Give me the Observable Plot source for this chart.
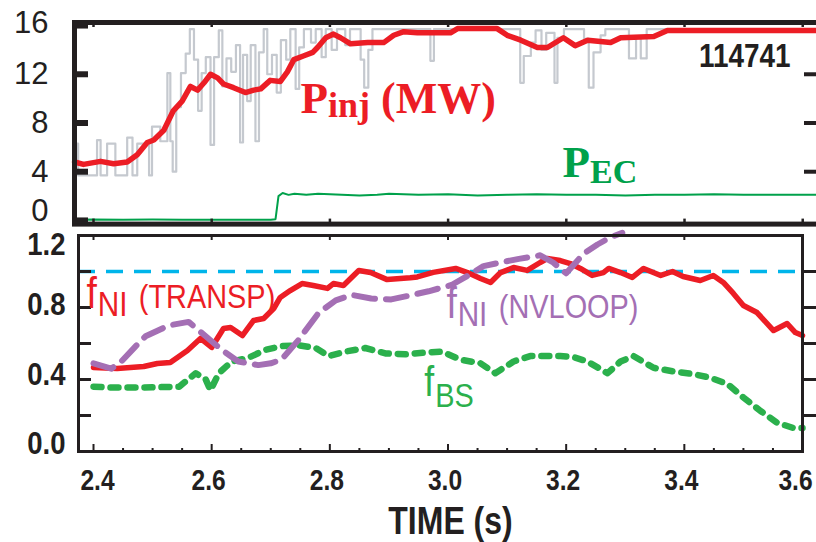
<!DOCTYPE html>
<html>
<head>
<meta charset="utf-8">
<script src="https://cdn.jsdelivr.net/npm/d3@7"></script>
<script src="https://cdn.jsdelivr.net/npm/@observablehq/plot@0.6"></script>
<style>
  html, body { margin: 0; padding: 0; background: #fff; }
  #wrap { position: relative; width: 816px; height: 542px; overflow: hidden; background: #fff; }
  #wrap svg { position: absolute; left: 0; overflow: visible; max-width: none !important; }
</style>
</head>
<body>
<div id="wrap"></div>
<script>
// ---------- DATA ----------
// Top panel: injected power P_inj (MW), smoothed
const pinjT = [2.368, 2.383, 2.412, 2.434, 2.457, 2.474, 2.491, 2.502, 2.519, 2.535, 2.550, 2.564, 2.576, 2.587, 2.598, 2.610, 2.620, 2.637, 2.657, 2.671, 2.683, 2.699, 2.716, 2.728, 2.739, 2.755, 2.771, 2.779, 2.793, 2.806, 2.818, 2.835, 2.864, 2.891, 2.908, 2.925, 2.948, 3.004, 3.016, 3.083, 3.100, 3.123, 3.151, 3.168, 3.195, 3.215, 3.236, 3.275, 3.292, 3.348, 3.371, 3.623];
const pinjV = [4.8, 4.6, 4.85, 4.65, 4.8, 5.4, 6.4, 6.6, 7.4, 9.0, 9.8, 11.0, 10.7, 11.3, 12.0, 11.7, 11.2, 10.9, 10.5, 10.7, 10.8, 11.5, 11.4, 12.2, 13.2, 13.5, 13.8, 14.2, 15.0, 15.3, 15.0, 14.5, 14.6, 14.6, 15.2, 15.5, 15.4, 15.4, 15.75, 15.75, 15.2, 14.8, 14.2, 14.2, 15.0, 14.35, 14.8, 14.6, 15.0, 15.1, 15.6, 15.6];

// Top panel: raw beam power (grey stepped trace)
const rawT = [2.368, 2.374, 2.406, 2.412, 2.423, 2.437, 2.457, 2.466, 2.474, 2.494, 2.499, 2.513, 2.525, 2.530, 2.534, 2.540, 2.548, 2.556, 2.563, 2.570, 2.577, 2.583, 2.590, 2.598, 2.604, 2.612, 2.618, 2.625, 2.633, 2.641, 2.648, 2.653, 2.660, 2.666, 2.674, 2.680, 2.688, 2.694, 2.702, 2.710, 2.717, 2.726, 2.733, 2.742, 2.748, 2.756, 2.768, 2.776, 2.786, 2.793, 2.803, 2.812, 2.826, 2.834, 2.852, 2.858, 2.865, 2.872, 2.970, 2.976, 3.122, 3.128, 3.140, 3.148, 3.158, 3.166, 3.180, 3.185, 3.196, 3.230, 3.238, 3.246, 3.258, 3.266, 3.306, 3.318, 3.326, 3.336, 3.623];
const rawV = [6.3, 3.7, 6.6, 3.7, 6.3, 3.7, 6.8, 3.7, 6.3, 3.7, 7.7, 6.5, 12.1, 6.5, 4.0, 9.3, 12.1, 13.7, 15.7, 13.2, 9.0, 12.1, 13.4, 6.2, 13.4, 15.6, 11.0, 13.3, 12.2, 14.4, 6.4, 13.6, 9.8, 14.4, 6.5, 13.8, 15.7, 12.0, 13.6, 10.5, 14.8, 13.2, 15.7, 10.8, 14.2, 15.7, 14.6, 15.7, 13.4, 15.7, 14.0, 15.7, 14.4, 15.7, 13.2, 10.9, 14.0, 15.7, 13.1, 15.7, 11.3, 13.5, 14.6, 15.6, 14.0, 15.4, 11.3, 15.0, 15.7, 14.9, 10.9, 13.8, 15.2, 15.7, 13.3, 15.0, 13.3, 15.7, 15.7];

// Top panel: ECH power P_EC (MW)
const pecT = [2.368, 2.40, 2.45, 2.50, 2.55, 2.60, 2.65, 2.70, 2.708, 2.713, 2.72, 2.73, 2.74, 2.76, 2.78, 2.80, 2.82, 2.85, 2.88, 2.90, 2.95, 3.00, 3.05, 3.10, 3.15, 3.20, 3.25, 3.30, 3.35, 3.40, 3.45, 3.50, 3.55, 3.60, 3.623];
const pecV = [0.05, 0.08, 0.05, 0.07, 0.05, 0.06, 0.05, 0.06, 0.10, 2.00, 2.25, 2.10, 2.20, 2.10, 2.20, 2.15, 2.10, 2.05, 2.10, 2.20, 2.10, 2.15, 2.05, 2.10, 2.15, 2.10, 2.10, 2.05, 2.10, 2.10, 2.15, 2.10, 2.10, 2.10, 2.10];

// Bottom panel: f_NI (TRANSP)
const transpT = [2.400, 2.440, 2.485, 2.508, 2.530, 2.559, 2.581, 2.600, 2.620, 2.632, 2.652, 2.671, 2.688, 2.705, 2.716, 2.733, 2.753, 2.772, 2.796, 2.806, 2.823, 2.849, 2.869, 2.897, 2.936, 2.948, 2.975, 3.013, 3.033, 3.055, 3.072, 3.089, 3.111, 3.134, 3.156, 3.168, 3.190, 3.207, 3.224, 3.244, 3.263, 3.272, 3.292, 3.312, 3.331, 3.360, 3.380, 3.398, 3.427, 3.449, 3.466, 3.483, 3.500, 3.523, 3.551, 3.574, 3.588, 3.600];
const transpV = [0.467, 0.461, 0.472, 0.489, 0.494, 0.561, 0.628, 0.578, 0.683, 0.689, 0.644, 0.728, 0.739, 0.794, 0.856, 0.894, 0.933, 0.922, 0.906, 0.933, 0.922, 1.006, 0.994, 0.955, 0.965, 0.97, 0.995, 1.017, 0.994, 0.961, 0.939, 0.994, 1.022, 1.006, 1.05, 1.072, 1.061, 1.044, 1.017, 0.978, 0.994, 1.017, 0.994, 0.967, 1.017, 0.978, 1.0, 0.972, 0.95, 0.978, 0.939, 0.878, 0.811, 0.772, 0.672, 0.711, 0.661, 0.644];

// Bottom panel: f_NI (NVLOOP)
const nvloopT = [2.400, 2.430, 2.447, 2.470, 2.488, 2.527, 2.561, 2.590, 2.617, 2.645, 2.679, 2.700, 2.718, 2.747, 2.781, 2.810, 2.837, 2.870, 2.904, 2.933, 2.967, 3.006, 3.030, 3.060, 3.089, 3.120, 3.156, 3.178, 3.200, 3.230, 3.253, 3.275, 3.295];
const nvloopV = [0.49, 0.46, 0.50, 0.58, 0.64, 0.70, 0.72, 0.64, 0.565, 0.50, 0.48, 0.49, 0.51, 0.62, 0.77, 0.84, 0.87, 0.85, 0.845, 0.865, 0.89, 0.925, 0.97, 1.03, 1.05, 1.07, 1.09, 1.05, 0.99, 1.10, 1.15, 1.19, 1.215];

// Bottom panel: f_BS
const fbsT = [2.400, 2.430, 2.480, 2.545, 2.573, 2.590, 2.598, 2.612, 2.634, 2.662, 2.691, 2.718, 2.747, 2.776, 2.798, 2.826, 2.860, 2.894, 2.928, 2.962, 2.990, 3.021, 3.055, 3.080, 3.111, 3.139, 3.190, 3.212, 3.236, 3.270, 3.292, 3.314, 3.348, 3.381, 3.415, 3.444, 3.473, 3.500, 3.529, 3.557, 3.585, 3.600];
const fbsV = [0.36, 0.355, 0.355, 0.36, 0.435, 0.40, 0.34, 0.435, 0.50, 0.52, 0.565, 0.585, 0.59, 0.575, 0.53, 0.555, 0.575, 0.545, 0.54, 0.55, 0.555, 0.51, 0.49, 0.435, 0.50, 0.53, 0.53, 0.525, 0.50, 0.435, 0.50, 0.53, 0.465, 0.445, 0.43, 0.41, 0.375, 0.30, 0.225, 0.16, 0.13, 0.13];

// Reference level f_NI = 1
const refLevel = [1.0];

// Ticks
const xTicks = [2.4, 2.6, 2.8, 3.0, 3.2, 3.4, 3.6];
const xMinor = [2.45, 2.5, 2.55, 2.65, 2.7, 2.75, 2.85, 2.9, 2.95, 3.05, 3.1, 3.15, 3.25, 3.3, 3.35, 3.45, 3.5, 3.55];
const yTicksTop = [0, 4, 8, 12, 16];
const yTicksTopInner = [4, 8, 12];
const yLabelsBottom = [0.0, 0.4, 0.8, 1.2];
const yTicksBottom = [0.2, 0.4, 0.6, 0.8, 1.0, 1.2];

// Text
const shotLabel = "114741";
const xTitle = "TIME (s)";

// ---------- helpers ----------
const rows = (T, V) => T.map((t, i) => ({t, v: V[i]}));
const RED = "#ec1d25", GREEN_TOP = "#00a14b", GREEN_BS = "#2bb04c", PURPLE = "#a46fb4", CYAN = "#00b5ea", GREY = "#c5c9cf", INK = "#231f20";
const SANS = "'Liberation Sans', Arial, Helvetica, sans-serif";
const SERIF = "'Liberation Serif', 'Times New Roman', 'DejaVu Serif', serif";

// composite labels (main glyph + subscript), rendered as tspans: [text, size, dy, dx]
const composite = {
  "Pinj (MW)": [["P", 45, 0, 0], ["inj", 36, 4, 0], [" (MW)", 44, -4, 0]],
  "PEC": [["P", 45, 0, 0], ["EC", 34, 6, 0]],
  "fNI (TRANSP)": [["f", 44, 0, 0], ["NI", 35, 8, 1], [" (TRANSP)", 34, -8, 4]],
  "fNI (NVLOOP)": [["f", 44, 0, 0], ["NI", 35, 8, 1], [" (NVLOOP)", 34, -8, 4]],
  "fBS": [["f", 42, 0, 0], ["BS", 34, 11, 1]]
};
function applyComposite(svg) {
  d3.select(svg).selectAll("text").each(function () {
    const parts = composite[this.textContent];
    if (!parts) return;
    const el = d3.select(this);
    el.text(null).attr("y", null).style("white-space", "pre");
    parts.forEach(([s, size, dy, dx]) => el.append("tspan").attr("font-size", size).attr("dy", dy).attr("dx", dx).text(s));
  });
}
// nudge and horizontally condense (Helvetica-Narrow look) text elements
function styleTexts(svg, selector, {k = 1, size = null, shift = () => [0, 0]} = {}) {
  d3.select(svg).selectAll(selector).each(function () {
    const [dx, dy] = shift(this.textContent);
    let tr = this.getAttribute("transform");
    if (!tr) {
      const x = parseFloat(this.getAttribute("x")) || 0;
      tr = `translate(${x},0)`;
      this.setAttribute("x", 0);
    }
    this.setAttribute("transform", `${tr} translate(${dx},${dy}) scale(${k},1)`);
    if (size) this.setAttribute("font-size", size);
  });
}
function condenseWhere(svg, test, k) {
  d3.select(svg).selectAll("text").filter(function () { return test(this.textContent); })
    .each(function () { this.setAttribute("transform", (this.getAttribute("transform") || "") + ` scale(${k},1)`); });
}

// ---------- TOP PANEL ----------
const topFrameW = 818 - 74;
const topLabels = [
  {t: 2.7502, v: 8.78, s: "Pinj (MW)", c: RED},
  {t: 3.1936, v: 3.55, s: "PEC", c: GREEN_TOP}
];
const topPlot = Plot.plot({
  width: 832, height: 232,
  marginLeft: 74, marginRight: 14, marginTop: 22, marginBottom: 8.4,
  x: {domain: [2.36785, 3.6267], axis: null},
  y: {domain: [-0.3, 16.25], ticks: yTicksTop, tickSize: 0, tickPadding: 26, label: null},
  style: {fontFamily: SANS, fontSize: "31px", color: INK, background: "transparent", maxWidth: "none"},
  marks: [
    Plot.line(rows(rawT, rawV), {x: "t", y: "v", curve: "step-after", stroke: GREY, strokeWidth: 2.2}),
    Plot.line(rows(pecT, pecV), {x: "t", y: "v", stroke: GREEN_TOP, strokeWidth: 2}),
    Plot.line(rows(pinjT, pinjV), {x: "t", y: "v", stroke: RED, strokeWidth: 5.5, strokeLinejoin: "round"}),
    Plot.frame({stroke: INK, strokeWidth: 5}),
    Plot.tickY(yTicksTopInner, {y: d => d, stroke: INK, strokeWidth: 4, insetRight: topFrameW - 14}),
    Plot.tickY(yTicksTop, {y: d => d, stroke: INK, strokeWidth: 6, insetRight: topFrameW - 14}),
    Plot.tickY(yTicksTopInner, {y: d => d, stroke: INK, strokeWidth: 4, insetLeft: topFrameW - 14}),
    Plot.tickX(xTicks, {x: d => d, stroke: INK, strokeWidth: 2.5, insetBottom: 201.6 - 5}),
    Plot.tickX(xTicks, {x: d => d, stroke: INK, strokeWidth: 2.5, insetTop: 201.6 - 5}),
    Plot.text(topLabels, {x: "t", y: "v", text: "s", fill: "c", textAnchor: "start", lineAnchor: "bottom",
      fontFamily: SERIF, fontWeight: "bold", fontSize: 43}),
    Plot.text([{t: 3.5794, v: 12.56, s: shotLabel}], {x: "t", y: "v", text: "s", fill: INK, textAnchor: "end", lineAnchor: "bottom",
      fontFamily: SANS, fontWeight: "bold", fontSize: 34})
  ]
});
applyComposite(topPlot);
styleTexts(topPlot, '[aria-label="y-axis tick label"] text', {shift: s => s === "0" ? [0, -9] : s === "16" ? [0, -2] : [0, 0]});
condenseWhere(topPlot, s => s === shotLabel, 0.82);
topPlot.style.top = "0px";

// ---------- BOTTOM PANEL ----------
const botFrameW = 802 - 78, botFrameH = 310 - 3 - 91;
const botLabels = [
  {t: 2.388, v: 0.80, s: "fNI (TRANSP)", c: RED},
  {t: 2.9973, v: 0.739, s: "fNI (NVLOOP)", c: PURPLE},
  {t: 2.960, v: 0.311, s: "fBS", c: GREEN_BS}
];
const bottomPlot = Plot.plot({
  width: 816, height: 310,
  marginLeft: 78, marginRight: 14, marginTop: 3, marginBottom: 91,
  x: {domain: [2.3746, 3.6], ticks: xTicks, tickFormat: ".1f", tickSize: 0, tickPadding: 17, label: null},
  y: {domain: [0, 1.2], ticks: yLabelsBottom, tickFormat: ".1f", tickSize: 0, tickPadding: 13, label: null},
  style: {fontFamily: SANS, fontSize: "30px", fontWeight: "bold", color: INK, background: "transparent", maxWidth: "none"},
  marks: [
    Plot.ruleY(refLevel, {y: d => d, stroke: CYAN, strokeWidth: 3.5, strokeDasharray: "17,11"}),
    Plot.line(rows(transpT, transpV), {x: "t", y: "v", stroke: RED, strokeWidth: 5.5, strokeLinejoin: "round"}),
    Plot.line(rows(fbsT, fbsV), {x: "t", y: "v", stroke: GREEN_BS, strokeWidth: 6.5, strokeDasharray: "8,9"}),
    Plot.line(rows(nvloopT, nvloopV), {x: "t", y: "v", stroke: PURPLE, strokeWidth: 6, strokeDasharray: "21,11"}),
    Plot.frame({stroke: INK, strokeWidth: 3}),
    Plot.tickY(yTicksBottom, {y: d => d, stroke: INK, strokeWidth: 3, insetRight: botFrameW - 13}),
    Plot.tickY(yTicksBottom.slice(0, 5), {y: d => d, stroke: INK, strokeWidth: 3, insetLeft: botFrameW, insetRight: -14}),
    Plot.tickX(xTicks, {x: d => d, stroke: INK, strokeWidth: 2, insetTop: botFrameH - 7}),
    Plot.tickX(xMinor, {x: d => d, stroke: INK, strokeWidth: 2, insetTop: botFrameH - 3}),
    Plot.tickX(xTicks, {x: d => d, stroke: INK, strokeWidth: 2, insetBottom: botFrameH - 5}),
    Plot.text(botLabels, {x: "t", y: "v", text: "s", fill: "c", textAnchor: "start", lineAnchor: "bottom",
      fontFamily: SANS, fontWeight: "normal", fontSize: 34}),
    Plot.text([xTitle], {frameAnchor: "bottom", text: d => d, dx: 10, dy: 82, fill: INK,
      fontFamily: SANS, fontWeight: "bold", fontSize: 39})
  ]
});
applyComposite(bottomPlot);
const yShift = {"1.2": 9, "0.8": -3, "0.4": -5, "0.0": -8};
const xShift = {"2.4": 4, "3.6": -7};
styleTexts(bottomPlot, '[aria-label="y-axis tick label"] text', {k: 0.86, size: 32, shift: s => [0, yShift[s] ?? 0]});
styleTexts(bottomPlot, '[aria-label="x-axis tick label"] text', {k: 0.82, size: 30, shift: s => [xShift[s] ?? -3, 0]});
condenseWhere(bottomPlot, s => s === xTitle, 0.82);
condenseWhere(bottomPlot, s => s.startsWith("f") && s.length > 2 && !/^\d/.test(s), 0.85);
bottomPlot.style.top = "232px";

const wrap = document.getElementById("wrap");
wrap.appendChild(topPlot);
wrap.appendChild(bottomPlot);
</script>
</body>
</html>
